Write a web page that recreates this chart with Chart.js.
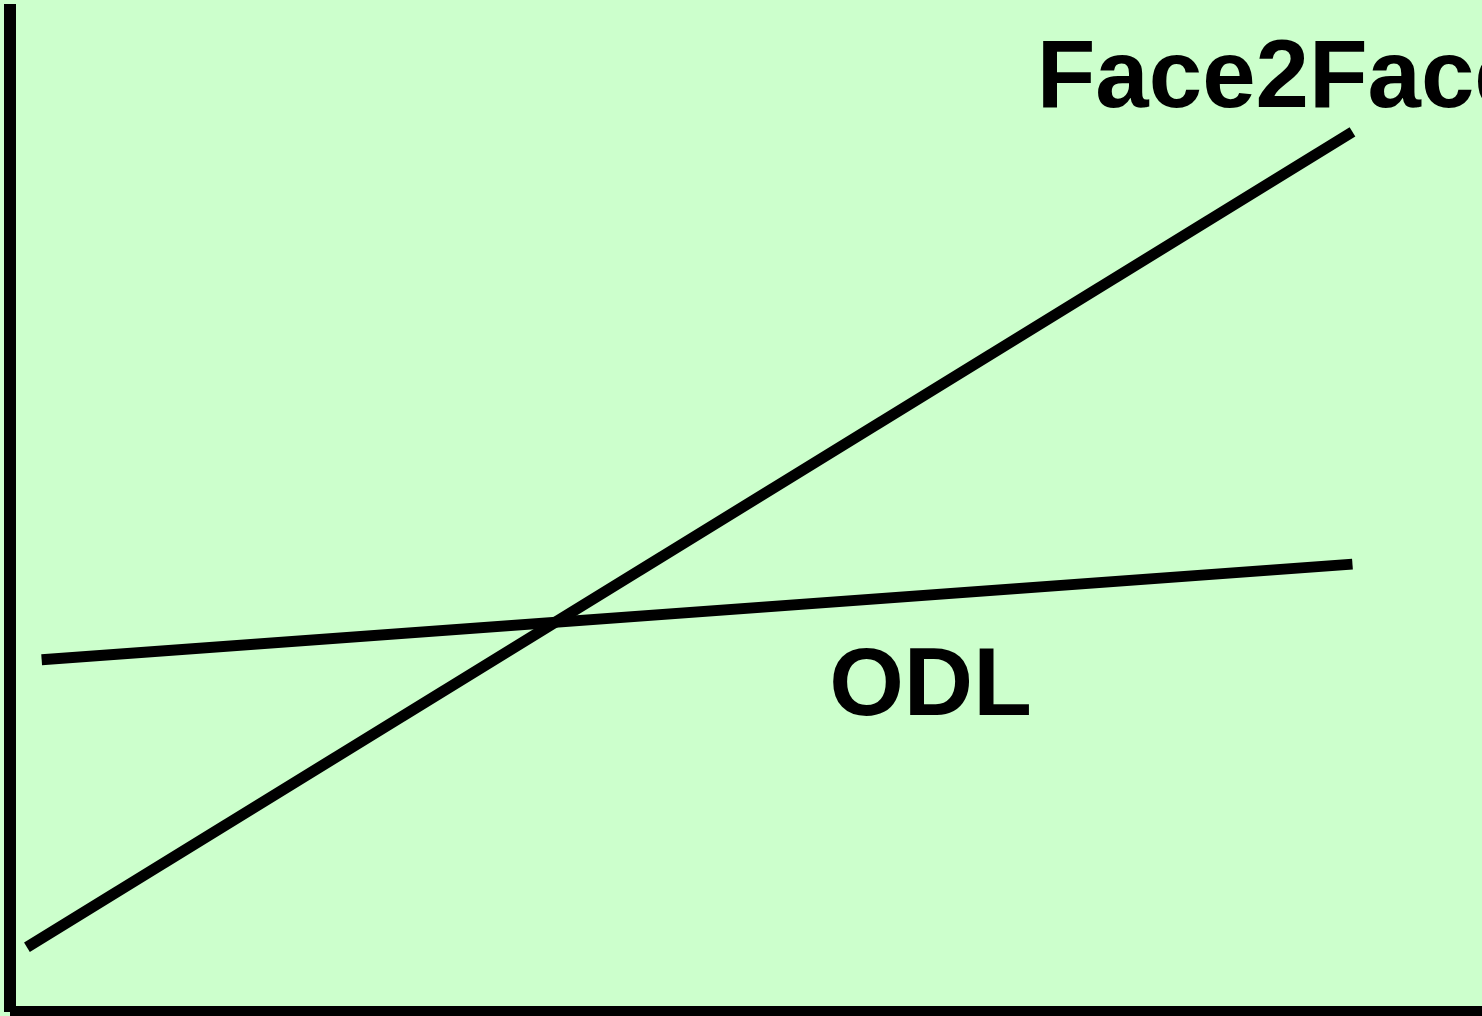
<!DOCTYPE html>
<html>
<head>
<meta charset="utf-8">
<script src="https://cdn.jsdelivr.net/npm/chart.js@4"></script>
<style>
  html, body { margin: 0; padding: 0; background: #CCFFCC; overflow: hidden; }
  #wrap { width: 1482px; height: 1016px; position: relative; }
</style>
</head>
<body>
<div id="wrap"><canvas id="c" width="1482" height="1016"></canvas></div>
<script>
// Data (in arbitrary chart units 0..100)
const seriesNames = ["Face2Face", "ODL"];
const face2faceX = [1.15, 91.2];
const face2faceY = [6.3, 86.95];
const odlX = [2.15, 91.2];
const odlY = [34.75, 44.2];
const labelTexts = ["Face2Face", "ODL"];

const toPoints = (xs, ys) => xs.map((x, i) => ({ x: x, y: ys[i] }));

const bgPlugin = {
  id: 'bg',
  beforeDraw(chart) {
    const ctx = chart.ctx;
    ctx.save();
    ctx.fillStyle = '#CCFFCC';
    ctx.fillRect(0, 0, chart.width, chart.height);
    ctx.restore();
  }
};

const axesPlugin = {
  id: 'axesLines',
  afterDatasetsDraw(chart) {
    const { ctx, chartArea } = chart;
    ctx.save();
    ctx.fillStyle = '#000000';
    // left axis
    ctx.fillRect(chartArea.left - 6, 4, 12, chart.height - 4 - 4);
    // bottom axis
    ctx.fillRect(chartArea.left, chartArea.bottom - 5, chart.width - chartArea.left, 12);
    ctx.restore();
  }
};

const labelPlugin = {
  id: 'lineLabels',
  afterDatasetsDraw(chart) {
    const { ctx, scales } = chart;
    ctx.save();
    ctx.fillStyle = '#000000';
    ctx.font = 'bold 96px "Liberation Sans", Arial, sans-serif';
    ctx.textAlign = 'left';
    ctx.textBaseline = 'alphabetic';
    // Face2Face label near top end of its line
    ctx.fillText(labelTexts[0], scales.x.getPixelForValue(69.75), scales.y.getPixelForValue(89.4));
    // ODL label below its line
    ctx.fillText(labelTexts[1], scales.x.getPixelForValue(55.65), scales.y.getPixelForValue(29.3));
    ctx.restore();
  }
};

new Chart(document.getElementById('c'), {
  type: 'scatter',
  data: {
    datasets: [
      {
        label: seriesNames[0],
        data: toPoints(face2faceX, face2faceY),
        showLine: true,
        borderColor: '#000000',
        borderWidth: 11,
        borderCapStyle: 'butt',
        pointRadius: 0,
        fill: false
      },
      {
        label: seriesNames[1],
        data: toPoints(odlX, odlY),
        showLine: true,
        borderColor: '#000000',
        borderWidth: 11,
        borderCapStyle: 'butt',
        pointRadius: 0,
        fill: false
      }
    ]
  },
  options: {
    responsive: false,
    animation: false,
    layout: { padding: { left: 10, right: 0, top: 0, bottom: 5 } },
    plugins: {
      legend: { display: false },
      tooltip: { enabled: false },
      title: { display: false }
    },
    scales: {
      x: { type: 'linear', min: 0, max: 100, display: false },
      y: { type: 'linear', min: 0, max: 100, display: false }
    }
  },
  plugins: [bgPlugin, axesPlugin, labelPlugin]
});
</script>
</body>
</html>
